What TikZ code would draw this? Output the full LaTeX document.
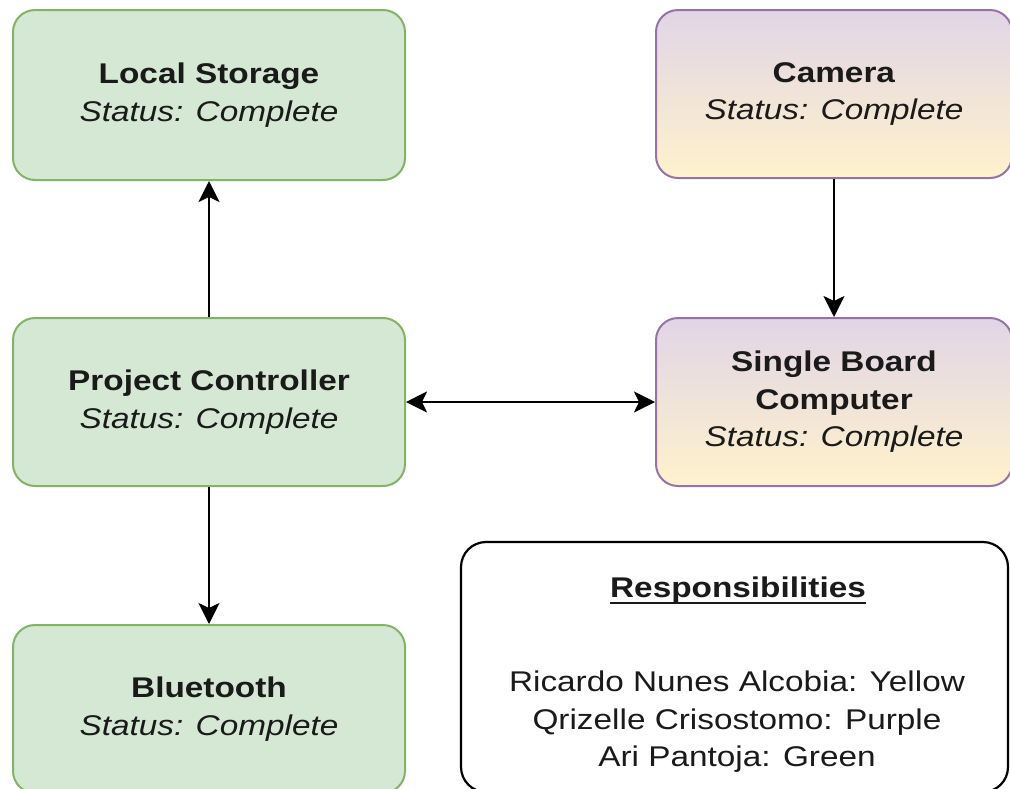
\documentclass[tikz,border=0pt]{standalone}
\usepackage{fontspec}
\setmainfont[FakeStretch=1.17]{Liberation Sans}
\usetikzlibrary{arrows.meta}
\definecolor{greenfill}{HTML}{D5E8D4}
\definecolor{greenline}{HTML}{82B366}
\definecolor{purpletop}{HTML}{E1D5E7}
\definecolor{yellowbottom}{HTML}{FFF2CC}
\definecolor{purpleline}{HTML}{9673A6}
\definecolor{inkcol}{HTML}{1A1A1A}
% thick underline for the legend heading
\newcommand\headrule[1]{\setbox0\hbox{#1}\leavevmode\rlap{\raisebox{-6.5pt}{\rule{\wd0}{2pt}}}\box0}
\begin{document}
\begin{tikzpicture}[x=1pt,y=-1pt,
  txt/.style={text=inkcol,align=center,font=\fontsize{28.5}{37.5}\selectfont},
  greenbox/.style={txt,draw=greenline,fill=greenfill,line width=2pt,rounded corners=22pt,
    minimum width=392pt,minimum height=170pt,inner sep=0pt},
  purplebox/.style={txt,draw=purpleline,top color=purpletop,bottom color=yellowbottom,
    line width=2pt,rounded corners=22pt,minimum width=356pt,minimum height=168pt,inner sep=0pt},
  legendbox/.style={draw=black,fill=white,line width=2.2pt,rounded corners=25pt,
    minimum width=547pt,minimum height=250pt,inner sep=0pt},
  tipstyle/.style={Stealth[length=21pt,width=21pt,inset=5pt]},
  arr/.style={draw=black,line width=2.4pt,-{Stealth[length=21pt,width=21pt,inset=5pt]}},
  darr/.style={draw=black,line width=2.4pt,{Stealth[length=21pt,width=21pt,inset=5pt]}-{Stealth[length=21pt,width=21pt,inset=5pt]}}]
\useasboundingbox (0,0) rectangle (1010,788);

% component boxes
\node[greenbox] (ls) at (209,95) {\textbf{Local Storage}\\\textit{Status: Complete}};
\node[purplebox] (cam) at (834,94) {\textbf{Camera}\\\textit{Status: Complete}};
\node[greenbox,minimum height=168pt] (pc) at (209,402) {\textbf{Project Controller}\\\textit{Status: Complete}};
\node[purplebox] (sbc) at (834,402) {\textbf{Single Board}\\\textbf{Computer}\\\textit{Status: Complete}};
\node[greenbox,minimum height=168pt] (bt) at (209,709) {\textbf{Bluetooth}\\\textit{Status: Complete}};

% legend
\node[legendbox] (leg) at (734.5,667) {};
\node[txt] (leghead) at (738,590) {\textbf{\headrule{Responsibilities}}};
\node[txt] (leglist) at (737,722) {Ricardo Nunes Alcobia: Yellow\\Qrizelle Crisostomo: Purple\\Ari Pantoja: Green};

% connectors
\draw[arr] (pc) -- (ls);
\draw[arr] (cam) -- (sbc);
\draw[arr] (pc) -- (bt);
\draw[darr] (pc) -- (sbc);
\end{tikzpicture}
\end{document}
